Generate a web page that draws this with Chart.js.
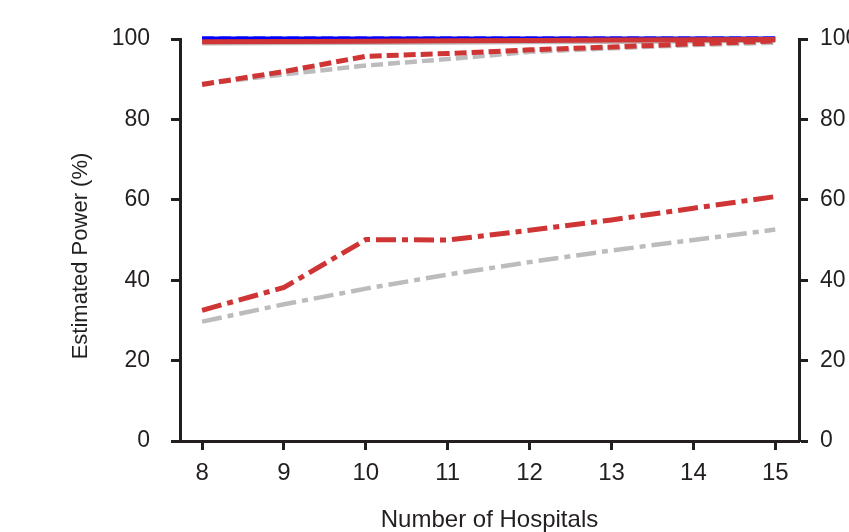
<!DOCTYPE html>
<html>
<head>
<meta charset="utf-8">
<script src="https://cdn.jsdelivr.net/npm/chart.js@4"></script>
<style>
  html, body { margin: 0; padding: 0; background: #fff; }
  #chart { display: block; }
</style>
</head>
<body>
<canvas id="chart" width="849" height="532"></canvas>
<script>
// number of hospitals on the x axis
const hospitals = [8, 9, 10, 11, 12, 13, 14, 15];
const yTicks = [0, 20, 40, 60, 80, 100];

// estimated power (%)
const blueSolid   = [100, 100, 100, 100, 100, 100, 100, 100];
const blueDashed  = [100, 100, 100, 100, 100, 100, 100, 100];
const graySolid   = [99.0, 99.05, 99.1, 99.2, 99.3, 99.4, 99.5, 99.6];
const grayDashed  = [88.8, 91.2, 93.4, 95.0, 96.8, 97.7, 98.5, 99.1];
const grayDashDot = [29.7, 34.0, 37.9, 41.4, 44.5, 47.4, 50.0, 52.6];
const redSolid    = [99.3, 99.35, 99.45, 99.55, 99.65, 99.75, 99.8, 99.85];
const redDashed   = [88.7, 91.9, 95.7, 96.4, 97.3, 98.0, 98.8, 99.5];
const redDashDot  = [32.5, 38.2, 50.1, 50.0, 52.4, 55.0, 57.9, 60.8];

const RED = '#cf3535', GRAY = '#bcbcbe', BLUE = '#0000ff', INK = '#231f20';
const DASH = [12, 5], DASHDOT = [20, 6, 6, 6];
const FAMILY = "'Liberation Sans', Arial, sans-serif";

function pts(vals){ return vals.map((v, i) => ({x: hospitals[i], y: v})); }
function line(vals, color, dash, width){
  return {data: pts(vals), borderColor: color, backgroundColor: color,
          borderDash: dash, borderWidth: width, pointRadius: 0, tension: 0, fill: false};
}

// first dataset is painted last (on top)
const datasets = [
  line(redSolid, RED, [], 5),
  line(redDashed, RED, DASH, 5),
  line(redDashDot, RED, DASHDOT, 5),
  line(graySolid, GRAY, [], 5),
  line(grayDashed, GRAY, DASH, 4.5),
  line(grayDashDot, GRAY, DASHDOT, 4.5),
  line(blueDashed, BLUE, DASH, 5),
  line(blueSolid, BLUE, [], 5)
];

// y axis title sits a bit below the plot middle in the original
const yTitle = {
  id: 'yTitle',
  afterDraw(chart){
    const ctx = chart.ctx;
    ctx.save();
    ctx.translate(81, 256);
    ctx.rotate(-Math.PI / 2);
    ctx.font = '22px ' + FAMILY;
    ctx.fillStyle = INK;
    ctx.textAlign = 'center';
    ctx.textBaseline = 'middle';
    ctx.fillText('Estimated Power (%)', 0, 0);
    ctx.restore();
  }
};

function yAxis(pos){
  return {
    position: pos, min: 0, max: 100,
    afterBuildTicks: s => { s.ticks = yTicks.map(v => ({value: v})); },
    afterFit: s => { s.width = pos === 'left' ? 180 : 50; },
    grid: {display: true, drawOnChartArea: false, drawTicks: true, tickLength: 9, tickWidth: 3, tickColor: INK},
    border: {display: true, color: INK, width: 3},
    ticks: {color: INK, font: {family: FAMILY, size: 23}, padding: pos === 'left' ? 21 : 12}
  };
}

new Chart(document.getElementById('chart'), {
  type: 'line',
  data: {datasets: datasets},
  plugins: [yTitle],
  options: {
    responsive: false, animation: false, devicePixelRatio: 1,
    layout: {padding: {top: 39, left: 0, right: 0, bottom: 0}},
    plugins: {legend: {display: false}, tooltip: {enabled: false}},
    clip: false,
    scales: {
      x: {
        type: 'linear', position: 'bottom', min: 7.73, max: 15.29,
        afterBuildTicks: s => { s.ticks = hospitals.map(v => ({value: v})); },
        afterFit: s => { s.height = 91; },
        grid: {display: true, drawOnChartArea: false, drawTicks: true, tickLength: 9, tickWidth: 3, tickColor: INK},
        border: {display: true, color: INK, width: 3},
        ticks: {color: INK, font: {family: FAMILY, size: 24}, padding: 9, maxRotation: 0},
        title: {display: true, text: 'Number of Hospitals', color: INK,
          font: {family: FAMILY, size: 24, lineHeight: 1}, padding: {top: 0, bottom: 0}}
      },
      y: yAxis('left'),
      y2: yAxis('right')
    }
  }
});
</script>
</body>
</html>
